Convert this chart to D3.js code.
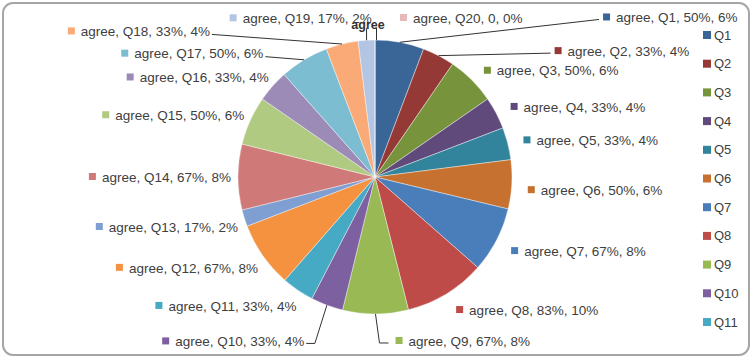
<!DOCTYPE html>
<html>
<head>
<meta charset="utf-8">
<script src="https://cdn.jsdelivr.net/npm/d3@7"></script>
<style>
  body { margin:0; background:#fff; }
  text { font-family:"Liberation Sans", Arial, sans-serif; fill:#404040; }
</style>
</head>
<body>
<svg id="chart" width="753" height="360"></svg>
<script>
// data
var questions = ['Q1','Q2','Q3','Q4','Q5','Q6','Q7','Q8','Q9','Q10',
                 'Q11','Q12','Q13','Q14','Q15','Q16','Q17','Q18','Q19','Q20']
var agreePct  = [50,33,50,33,33,50,67,83,67,33,33,67,17,67,50,33,50,33,17,0]
var pctLabels = ['50%','33%','50%','33%','33%','50%','67%','83%','67%','33%',
                 '33%','67%','17%','67%','50%','33%','50%','33%','17%','0']
var shareLabels = ['6%','4%','6%','4%','4%','6%','8%','10%','8%','4%',
                   '4%','8%','2%','8%','6%','4%','6%','4%','2%','0%']
var legendItems = questions.slice(0, 11)
var colors = ['#3a6697','#953937','#77933c','#604a7b','#31849b','#c6712f',
              '#4a7ebb','#be4b48','#98b954','#7d60a0','#46aac4','#f59240',
              '#7f9fd3','#cf7a78','#b1ca81','#9c8ab7','#7cbdd2','#f9aa76',
              '#b3c5e3','#e6b9b8']

// label placement tweaks (Excel moved the crowded ones)
var labelNudge = {
    Q1:  { dx:198, dy:-12, leader:'straight' },
    Q2:  { dx:107, dy:7,   leader:'straight' },
    Q9:  { dx:17,  dy:9,   leader:'elbow' },
    Q10: { dx:-24, dy:19,  leader:'elbow' },
    Q17: { dx:-40, dy:5,   leader:'straight' },
    Q18: { dx:-135,dy:0,   leader:'straight' },
    Q19: { dx:0,   dy:-9,  leader:'up' },
    Q20: { dx:22,  dy:-9,  leader:'up' }
}

var svg = d3.select('#chart')
var cx = 375, cy = 177, r = 137, labelR = 150

svg.append('rect')
    .attr('x', 3).attr('y', 3)
    .attr('width', 746).attr('height', 352)
    .attr('rx', 10)
    .style('fill', '#fff')
    .style('stroke', '#a6a6a6')
    .style('stroke-width', 2)

var rows = questions.map((q, i)=> ({ q:q, v:agreePct[i], i:i }))
var pie = d3.pie().sort(null).value(d=> d.v)
var arcs = pie(rows)
var arc = d3.arc().innerRadius(0).outerRadius(r)
var color = d3.scaleOrdinal().domain(questions).range(colors)

var g = svg.append('g').attr('transform', 'translate(' + cx + ',' + cy + ')')

g.selectAll('path.slice')
    .data(arcs)
    .join('path')
    .attr('class', 'slice')
    .attr('d', arc)
    .style('fill', d=> color(d.data.q))
    .style('stroke', '#fff')
    .style('stroke-width', 0.4)

function polar(a, rad)
{
    return [Math.sin(a) * rad, -Math.cos(a) * rad]
}

var labels = arcs.map(d=> {
    var mid = (d.startAngle + d.endAngle) / 2
    var p = polar(mid, labelR)
    var right = Math.sin(mid) >= -1e-6 || mid >= 2 * Math.PI - 1e-6
    var nudge = labelNudge[d.data.q] || { dx:0, dy:0 }
    var sx = right ? 3 : 6
    var sy = Math.cos(mid) < -0.01 ? 5 : 0
    return {
        d:d, mid:mid, right:right,
        x:p[0] + sx + nudge.dx, y:p[1] + sy + nudge.dy,
        edge:polar(mid, r),
        leader:nudge.leader,
        text:'agree, ' + d.data.q + ', ' + pctLabels[d.data.i] + ', ' + shareLabels[d.data.i]
    }
})

var lg = g.append('g')

labels.forEach(l=> {
    var item = lg.append('g')
    var t = item.append('text')
        .attr('y', l.y)
        .attr('dy', '0.35em')
        .style('font-size', '13.5px')
        .text(l.text)
    var w = t.node().getComputedTextLength()
    var sqX, textEnd
    if (l.right) {
        sqX = l.x
        t.attr('x', l.x + 13)
        textEnd = l.x + 13 + w
    } else {
        t.attr('x', l.x).attr('text-anchor', 'end')
        sqX = l.x - w - 13
        textEnd = l.x
    }
    item.append('rect')
        .attr('x', sqX).attr('y', l.y - 4)
        .attr('width', 7).attr('height', 7)
        .style('fill', color(l.d.data.q))

    if (!l.leader)
        return
    var pts
    var ex = l.edge[0], ey = l.edge[1]
    if (l.leader == 'straight') {
        pts = l.right ? [[ex, ey], [sqX - 4, l.y + 2]]
                      : [[ex, ey], [textEnd + 2, l.y + 3]]
    }
    else if (l.leader == 'elbow') {
        var yy = l.y + 2
        pts = l.right ? [[ex, ey], [ex + 4, yy], [sqX - 7, yy]]
                      : [[ex, ey], [ex - 12, yy], [textEnd + 2, yy]]
    }
    else {
        pts = [[ex + (l.right ? 1.5 : 0), ey], [ex + (l.right ? 1.5 : 0), ey - 12]]
    }
    lg.append('path')
        .attr('d', d3.line()(pts))
        .style('fill', 'none')
        .style('stroke', '#333')
        .style('stroke-width', 1)
})

// overlapping label left by Excel at the top of the pie
g.append('text')
    .attr('x', -7).attr('y', -r - 11)
    .attr('text-anchor', 'middle')
    .style('font-size', '12.5px')
    .style('font-weight', 'bold')
    .style('fill', '#333')
    .text('agree')

// legend
var legendY = d3.scalePoint().domain(legendItems).range([35, 322])
var leg = svg.append('g').attr('class', 'legend')
var li = leg.selectAll('g')
    .data(legendItems)
    .join('g')
    .attr('transform', d=> 'translate(703,' + legendY(d) + ')')
li.append('rect')
    .attr('x', 0).attr('y', -4)
    .attr('width', 8).attr('height', 8)
    .style('fill', d=> color(d))
li.append('text')
    .attr('x', 11).attr('dy', '0.35em')
    .style('font-size', '13px')
    .text(d=> d)
</script>
</body>
</html>
